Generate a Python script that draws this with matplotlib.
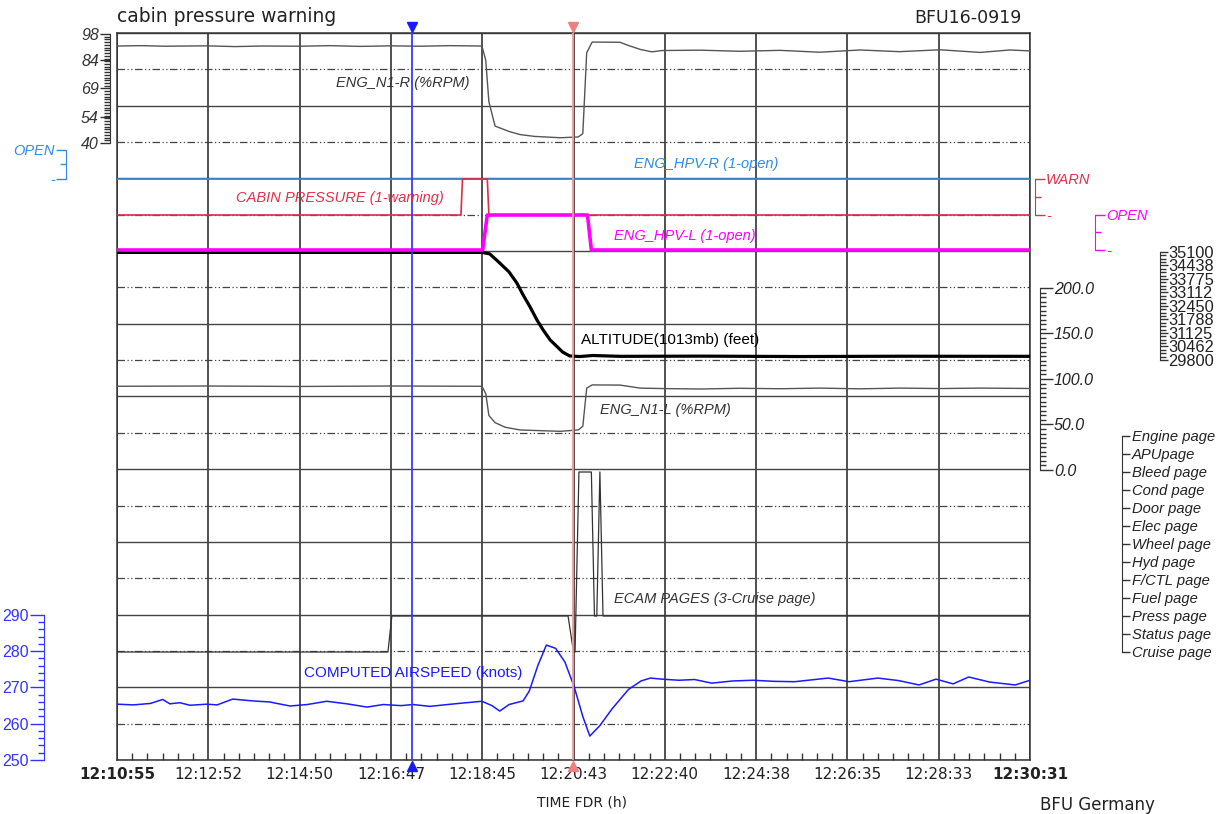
import matplotlib
matplotlib.use("Agg")
import matplotlib.pyplot as plt
import numpy as np

W, H, DPI = 1222, 814, 100
LEFT, RIGHT, TOP, BOT = 117, 1030, 33, 760  # plot frame in pixels

# ---- data (time = seconds after 12:10:55) ----
t_end = 1176
time_labels = ["12:10:55", "12:12:52", "12:14:50", "12:16:47", "12:18:45", "12:20:43",
               "12:22:40", "12:24:38", "12:26:35", "12:28:33", "12:30:31"]
cursor_blue = 380
cursor_red = 587

n1r_t = [0, 30, 62, 116, 152, 187, 236, 274, 313, 352, 390, 429, 470, 475, 479, 487, 506, 519,
         538, 571, 594, 600, 605, 612, 648, 658, 674, 689, 702, 751, 802, 854, 905, 957, 1008,
         1060, 1112, 1150, 1176]
n1r_v = [91.6, 91.8, 91.5, 91.7, 91.3, 91.6, 91.5, 91.8, 91.4, 91.7, 91.5, 91.8, 91.6, 84, 62,
         49, 46, 44.5, 43.5, 42.8, 43.2, 45, 88, 93.7, 93.6, 92, 89.8, 88.5, 89.2, 89.4, 88.8,
         89.3, 88.3, 89.5, 88.6, 89.6, 88.2, 89.5, 89]

n1l_t = [0, 116, 236, 352, 470, 475, 479, 487, 500, 519, 571, 594, 600, 605, 612, 648, 674, 702,
         751, 802, 854, 905, 957, 1008, 1060, 1112, 1176]
n1l_v = [92, 92.3, 91.8, 92.3, 92, 84, 60, 52, 47, 44, 42.5, 44, 48, 90, 93.5, 93.3, 90, 89.5,
         89, 89.8, 89.3, 90, 89.2, 90, 89.5, 90, 89.6]

hpvr_t = [0, t_end]
hpvr_v = [0, 0]

cabin_t = [0, 443, 445, 477, 479, t_end]
cabin_v = [0, 0, 1, 1, 0, 0]

hpvl_t = [0, 471, 477, 606, 611, t_end]
hpvl_v = [0, 0, 1, 1, 0, 0]

alt_t = [0, 470, 480, 493, 505, 515, 523, 532, 541, 549, 558, 567, 574, 583, 596, 613, 648,
         751, 880, 1008, 1176]
alt_v = [35080, 35080, 35010, 34560, 34120, 33580, 33000, 32410, 31760, 31270, 30780, 30450,
         30190, 30000, 29970, 30020, 29980, 29990, 29970, 29985, 29980]

ecam_pages = ["Engine page", "APUpage", "Bleed page", "Cond page", "Door page", "Elec page",
              "Wheel page", "Hyd page", "F/CTL page", "Fuel page", "Press page",
              "Status page", "Cruise page"]
ecam_t = [0, 349, 354, 581, 588, 590, 595, 611, 615, 618, 622, 626, t_end]
ecam_v = [13, 13, 11, 11, 13, 13, 3, 3, 11, 11, 3, 11, 11]

cas_t = [0, 21, 43, 59, 68, 81, 94, 116, 129, 149, 175, 197, 206, 223, 245, 270, 296, 322,
         343, 366, 381, 403, 435, 470, 483, 493, 505, 523, 531, 542, 553, 565, 577, 589, 600,
         609, 622, 638, 659, 675, 687, 702, 724, 744, 766, 793, 819, 846, 873, 916, 943, 980,
         1007, 1033, 1055, 1077, 1097, 1124, 1157, 1176]
cas_v = [265.4, 265.2, 265.6, 266.7, 265.5, 265.8, 265.1, 265.4, 265.2, 266.8, 266.3, 266.0,
         265.6, 264.9, 265.3, 266.2, 265.5, 264.6, 265.3, 265.0, 265.3, 264.8, 265.5, 266.2,
         265.0, 263.5, 265.3, 266.3, 269.0, 276.0, 281.7, 280.8, 277.0, 270.1, 262.0, 256.6,
         259.5, 264.2, 269.5, 271.8, 272.6, 272.3, 272.0, 272.2, 271.2, 271.8, 272.0, 271.7,
         271.6, 272.6, 271.6, 272.6, 271.9, 270.7, 272.3, 271.0, 272.9, 271.5, 270.7, 272.0]

SANS = ["Liberation Sans", "DejaVu Sans"]
VERD = ["DejaVu Sans"]

fig = plt.figure(figsize=(W / DPI, H / DPI), dpi=DPI)
ax = fig.add_axes([LEFT / W, 1 - BOT / H, (RIGHT - LEFT) / W, (BOT - TOP) / H])
ax.set_xlim(0, t_end)
ax.set_ylim(0, 10)

# grid: solid band lines, dash-dot-dot half lines
ax.set_yticks(np.arange(0, 11))
ax.set_yticks(np.arange(0.5, 10, 1), minor=True)
ax.yaxis.grid(True, which="major", color="#444444", lw=1.0)
ax.yaxis.grid(True, which="minor", color="#444444", lw=0.9,
              linestyle=(0, (6, 2, 1, 2, 1, 2)))
ax.tick_params(axis="y", which="both", length=0, labelleft=False)

ax.set_xticks(np.linspace(0, t_end, 11))
ax.set_xticklabels(time_labels, family=VERD, fontsize=11, color="#222222")
ax.set_xticks(np.linspace(0, t_end, 61), minor=True)
ax.xaxis.grid(True, which="major", color="#222222", lw=1.1)
ax.tick_params(axis="x", which="major", length=0, pad=5)
ax.tick_params(axis="x", which="minor", direction="in", length=5, width=1, color="#333333")
for i in (0, -1):
    ax.get_xticklabels()[i].set_fontweight("bold")
for s in ax.spines.values():
    s.set_color("#333333")
    s.set_linewidth(1.1)


def side_axis(v_a, p_a, v_b, p_b, side=None, offset=0, bounds=None, color="black"):
    a = ax.twinx()
    k = (v_b - v_a) / (p_b - p_a)
    a.set_ylim(v_a + k * (BOT - p_a), v_a + k * (TOP - p_a))
    for s in a.spines.values():
        s.set_visible(False)
    if side is None:
        a.set_yticks([])
        return a
    a.yaxis.set_ticks_position(side)
    sp = a.spines[side]
    sp.set_visible(True)
    sp.set_bounds(*bounds)
    sp.set_position(("outward", offset * 0.72))
    sp.set_color(color)
    a.tick_params(axis="y", which="both", colors=color, direction="out", width=1)
    a.tick_params(axis="y", which="major", length=7, pad=1)
    a.tick_params(axis="y", which="minor", length=4)
    return a


# ENG_N1-R
a = side_axis(98, 34, 40, 143, "left", 7, (40, 98), "#333333")
a.set_yticks([40, 54, 69, 84, 98], ["40", "54", "69", "84", "98"],
             fontstyle="italic", family=SANS, fontsize=11.5)
a.set_yticks(np.linspace(40, 98, 41), minor=True)
a.plot(n1r_t, n1r_v, color="#555555", lw=1.0)

# ENG_HPV-R
a = side_axis(1, 150, 0, 179, "left", 51, (0, 1), "#2f8ce6")
a.set_yticks([0, 1], ["-", "OPEN"], fontstyle="italic", family=SANS, fontsize=10.5)
a.set_yticks([0.5], minor=True)
a.plot(hpvr_t, hpvr_v, color="#3f86cc", lw=1.3)

# CABIN PRESSURE
a = side_axis(1, 179, 0, 215, "right", 5, (0, 1), "#e0304a")
a.set_yticks([0, 1], ["-", "WARN"], fontstyle="italic", family=SANS, fontsize=10.5)
a.set_yticks([0.5], minor=True)
a.plot(cabin_t, cabin_v, color="#dc2d48", lw=1.2)

# ALTITUDE
a = side_axis(35100, 252, 29800, 360, "right", 130, (29800, 35100), "#333333")
alt_ticks = np.linspace(29800, 35100, 9)
a.set_yticks(alt_ticks, [f"{v:.0f}" for v in alt_ticks], family=SANS, fontsize=11.8,
             color="#222222")
a.set_yticks(np.linspace(29800, 35100, 33), minor=True)
a.tick_params(axis="y", which="major", length=6, pad=0)
a.plot(alt_t, alt_v, color="black", lw=2.3)

# ENG_HPV-L
a = side_axis(1, 215, 0, 250, "right", 65, (0, 1), "#ff00ff")
a.set_yticks([0, 1], ["-", "OPEN"], fontstyle="italic", family=SANS, fontsize=10.5)
a.set_yticks([0.5], minor=True)
a.plot(hpvl_t, hpvl_v, color="#ff00ff", lw=2.6)

# ENG_N1-L
a = side_axis(200, 288, 0, 470, "right", 10, (0, 200), "#333333")
n1l_ticks = [0, 50, 100, 150, 200]
a.set_yticks(n1l_ticks, [f"{v:.1f}" for v in n1l_ticks], fontstyle="italic",
             family=SANS, fontsize=11.5, color="#222222")
a.set_yticks(np.arange(0, 201, 5), minor=True)
a.tick_params(axis="y", which="major", length=9, pad=1)
a.plot(n1l_t, n1l_v, color="#555555", lw=1.0)

# ECAM PAGES
a = side_axis(1, 436, 13, 652, "right", 92, (1, 13), "#333333")
a.set_yticks(np.arange(1, 14), ecam_pages, fontstyle="italic", family=SANS,
             fontsize=10.6, color="#222222")
a.tick_params(axis="y", which="major", length=6, pad=1)
a.plot(ecam_t, ecam_v, color="#333333", lw=0.9)

# COMPUTED AIRSPEED
a = side_axis(290, 615, 250, 760, "left", 73, (250, 290), "#3333ff")
a.set_yticks([250, 260, 270, 280, 290], ["250", "260", "270", "280", "290"],
             family=SANS, fontsize=11.5)
a.set_yticks(np.arange(250, 291, 2), minor=True)
a.tick_params(axis="y", which="major", length=10, pad=1)
a.plot(cas_t, cas_v, color="#1a1aff", lw=1.1)

# cursors
a.axvline(cursor_blue, color="#3a3aff", lw=1.3)
a.axvline(cursor_red, color="#f59a9a", lw=1.3)
tr = a.get_xaxis_transform()
for x, c in ((cursor_blue, "#1a1aff"), (cursor_red, "#f08080")):
    a.plot([x], [1 + 6 / (BOT - TOP)], marker="v", ms=7, color=c, transform=tr, clip_on=False)
    a.plot([x], [-6 / (BOT - TOP)], marker="^", ms=7, color=c, transform=tr, clip_on=False)


def fx(x):
    return x / W


def fy(y):
    return 1 - y / H


lab = dict(ha="center", va="center", fontstyle="italic", family=SANS, fontsize=10.5)
fig.text(fx(403), fy(83), "ENG_N1-R (%RPM)", color="#333333", **lab)
fig.text(fx(706), fy(164), "ENG_HPV-R (1-open)", color="#2f8ce6", **lab)
fig.text(fx(340), fy(198), "CABIN PRESSURE (1-warning)", color="#e0304a", **lab)
fig.text(fx(685), fy(236), "ENG_HPV-L (1-open)", color="#ff00ff", **lab)
fig.text(fx(665), fy(410), "ENG_N1-L (%RPM)", color="#333333", **lab)
fig.text(fx(715), fy(599), "ECAM PAGES (3-Cruise page)", color="#333333", **lab)
fig.text(fx(670), fy(340), "ALTITUDE(1013mb) (feet)", ha="center", va="center",
         family=SANS, fontsize=11, color="black")
fig.text(fx(413), fy(673), "COMPUTED AIRSPEED (knots)", ha="center", va="center",
         family=SANS, fontsize=11, color="#1a1aff")

fig.text(fx(117), fy(16), "cabin pressure warning", ha="left", va="center",
         family=VERD, fontsize=13.5, color="#222222")
fig.text(fx(1022), fy(18), "BFU16-0919", ha="right", va="center",
         family=VERD, fontsize=12.5, color="#222222")
fig.text(fx(582), fy(803), "TIME FDR (h)", ha="center", va="center",
         family=VERD, fontsize=10, color="#222222")
fig.text(fx(1040), fy(796), "BFU Germany", ha="left", va="top",
         family=VERD, fontsize=12, color="#222222")

fig.savefig("out.png", dpi=DPI)
